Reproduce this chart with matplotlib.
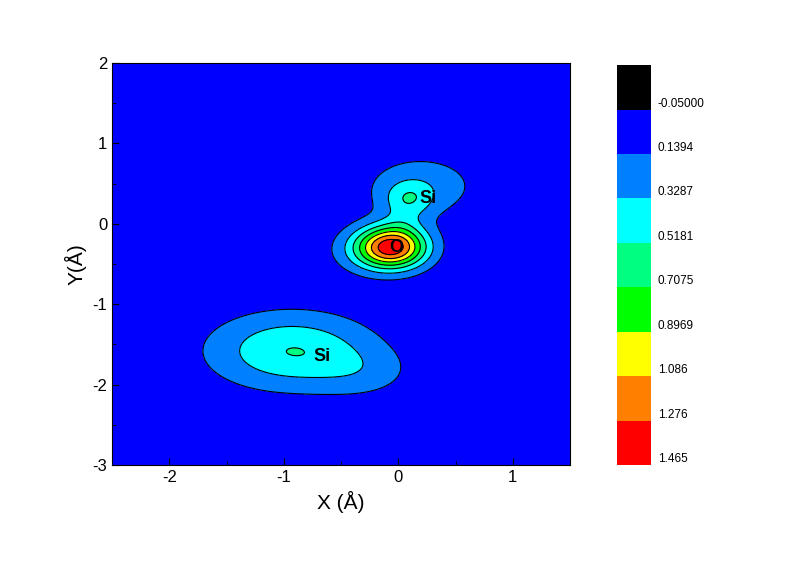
import numpy as np
import matplotlib
matplotlib.use("Agg")
import matplotlib.pyplot as plt
from matplotlib.colors import ListedColormap, BoundaryNorm
from matplotlib.colorbar import ColorbarBase

plt.rcParams["font.family"] = ["Liberation Sans", "DejaVu Sans"]
plt.rcParams["axes.unicode_minus"] = False

# contour levels shown in the colour scale
levels = [-0.05, 0.1394, 0.3287, 0.5181, 0.7075, 0.8969, 1.086, 1.276, 1.465]
level_labels = ["-0.05000", "0.1394", "0.3287", "0.5181", "0.7075",
                "0.8969", "1.086", "1.276", "1.465"]
fill_colors = ["#0000ff", "#0080ff", "#00ffff", "#00ff80", "#00ff00",
               "#ffff00", "#ff8000", "#ff0000"]
under_color = "#000000"

# density blobs:
# O core, O left shoulder, O-Si bond, upper Si core, upper Si halo, lower Si, lower Si tail
blob_x = [-0.05, -0.30, 0.04, 0.09, 0.20, -0.93, -0.30]
blob_y = [-0.29, -0.33, 0.03, 0.31, 0.47, -1.58, -1.85]
blob_amp = [1.33, 0.19, 0.10, 0.315, 0.26, 0.515, 0.15]
blob_sx = [0.21, 0.22, 0.12, 0.15, 0.34, 0.48, 0.30]
blob_sy = [0.185, 0.20, 0.15, 0.15, 0.27, 0.32, 0.22]

atom_names = ["O", "Si", "Si"]
atom_label_x = [-0.02, 0.26, -0.67]
atom_label_y = [-0.30, 0.32, -1.65]

x = np.linspace(-2.5, 1.5, 401)
y = np.linspace(-3, 2, 501)
X, Y = np.meshgrid(x, y)
Z = np.zeros_like(X)
for bx, by, a, sx, sy in zip(blob_x, blob_y, blob_amp, blob_sx, blob_sy):
	Z += a*np.exp(-((X-bx)**2/(2*sx**2) + (Y-by)**2/(2*sy**2)))

fig = plt.figure(figsize=(8, 5.61), dpi=100)
ax = fig.add_axes([0.14, 0.171, 0.5725, 0.7166])

ax.contourf(X, Y, Z, levels=levels, colors=fill_colors, extend="neither")
ax.contour(X, Y, Z, levels=levels[1:-1], colors="black", linewidths=0.8)

for name, lx, ly in zip(atom_names, atom_label_x, atom_label_y):
	ax.text(lx, ly, name, fontsize=13, fontweight="bold", ha="center", va="center")

ax.set_xlim(-2.5, 1.5)
ax.set_ylim(-3, 2)
ax.set_xticks([-2, -1, 0, 1])
ax.set_yticks([-3, -2, -1, 0, 1, 2])
ax.set_xticks(np.arange(-2.5, 1.51, 0.5), minor=True)
ax.set_yticks(np.arange(-3, 2.01, 0.5), minor=True)
ax.tick_params(which="both", direction="in", top=False, right=False, labelsize=12)
ax.tick_params(which="major", length=5)
ax.tick_params(which="minor", length=3)
ax.set_xlabel("X (Å)", fontsize=15)
ax.set_ylabel("Y(Å)", fontsize=15)

# colour scale: black box on top, red at bottom
cax = fig.add_axes([0.771, 0.171, 0.0425, 0.713])
step = levels[1] - levels[0]
bounds = [levels[0] - step] + levels
cmap = ListedColormap([under_color] + fill_colors)
norm = BoundaryNorm(bounds, cmap.N)
cb = ColorbarBase(cax, cmap=cmap, norm=norm, boundaries=bounds, ticks=levels,
                  spacing="uniform", orientation="vertical")
cb.set_ticklabels(level_labels)
cb.outline.set_visible(False)
cax.minorticks_off()
cax.invert_yaxis()
cax.tick_params(length=0, labelsize=8.5, pad=5)
for lab in cax.get_yticklabels():
	lab.set_va("bottom")

fig.savefig("out.png", dpi=100)
